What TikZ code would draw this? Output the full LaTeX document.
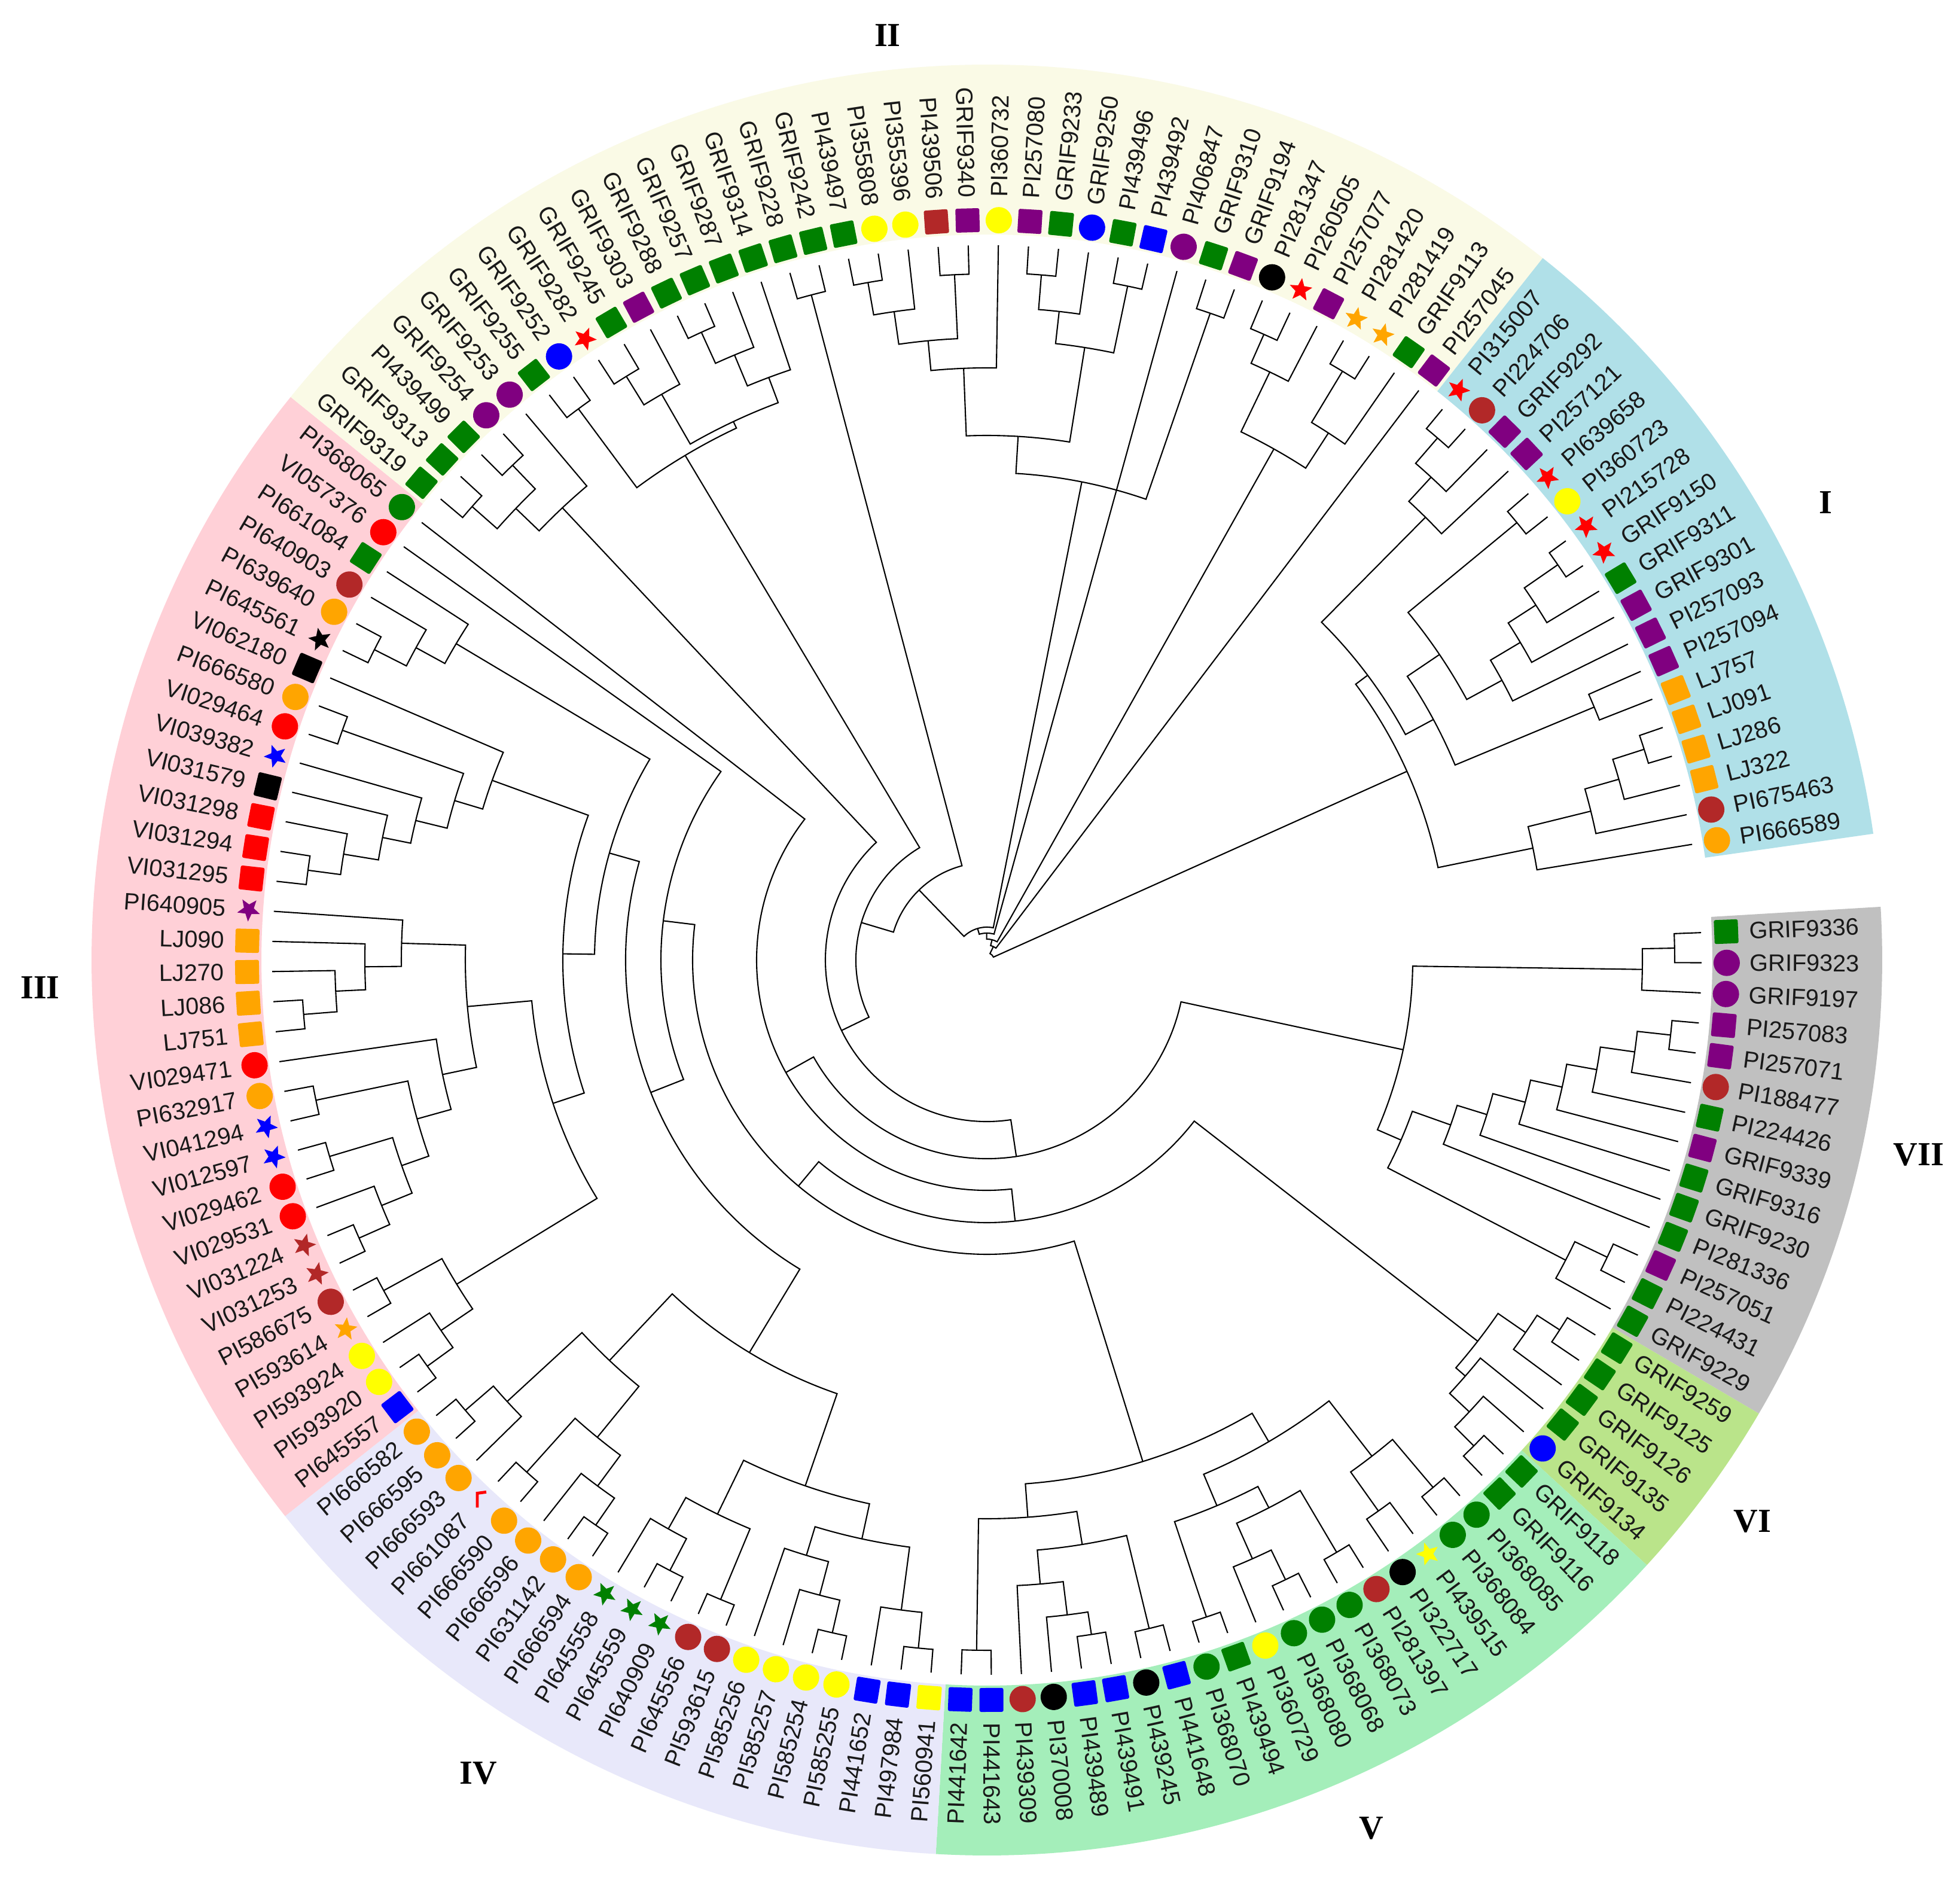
\documentclass[tikz,border=0pt]{standalone}
\usepackage{fontspec}
\setmainfont{Liberation Serif}
\setsansfont{Liberation Sans}
\usetikzlibrary{shapes.geometric}

\definecolor{gn}{RGB}{0,128,0}
\definecolor{pu}{RGB}{128,0,128}
\definecolor{br}{RGB}{178,40,40}
\definecolor{rd}{RGB}{255,0,0}
\definecolor{or}{RGB}{255,165,0}
\definecolor{ye}{RGB}{255,255,0}
\definecolor{bl}{RGB}{0,0,255}
\definecolor{bk}{RGB}{0,0,0}
\definecolor{bandI}{RGB}{176,224,232}
\definecolor{bandII}{RGB}{250,250,230}
\definecolor{bandIII}{RGB}{255,208,215}
\definecolor{bandIV}{RGB}{232,232,250}
\definecolor{bandV}{RGB}{164,238,186}
\definecolor{bandVI}{RGB}{186,228,138}
\definecolor{bandVII}{RGB}{192,192,192}

\tikzset{
  branch/.style={black, line width=0.6pt},
  mk/.style={draw=none, inner sep=0pt, outer sep=0pt},
  sq/.style={mk, rectangle, rounded corners=0.8pt, minimum size=0.40cm},
  ci/.style={mk, circle, minimum size=0.44cm},
  st/.style={mk, star, star points=5, star point ratio=2.3, minimum size=0.40cm},
  hk/.style={mk, minimum size=0.30cm},
  lab/.style={font=\sffamily\fontsize{11.3}{13}\selectfont, inner sep=0pt, text=black!90},
  clu/.style={font=\bfseries\fontsize{16}{18}\selectfont}
}

% leaf angle = 2.2 - 2.417*index, leaf tips at r = 11.95
\newcommand\clade[4]{%
  \edef\aA{\csname ang@#3\endcsname}%
  \edef\aB{\csname ang@#4\endcsname}%
  \pgfmathsetmacro\aM{(\aA+\aB)/2}%
  \expandafter\xdef\csname ang@#1\endcsname{\aM}%
  \coordinate (#1) at (\aM:#2);
  \draw[branch] (#3) -- (\aA:#2) arc[start angle=\aA, end angle=\aB, radius=#2] -- (#4);
}
\newcommand\acc[4]{%
  \pgfmathsetmacro\aL{2.2-2.417*#1}%
  \pgfmathtruncatemacro\sd{cos(\aL)>=0 ? 1 : 0}%
  \node[#2, fill=#3, rotate=\aL] (m#1) at (\aL:12.37) {};
  \ifnum\sd=1
    \node[lab, anchor=west, rotate=\aL] (t#1) at (\aL:12.75) {#4};
  \else
    \pgfmathsetmacro\aF{\aL+180}%
    \node[lab, anchor=east, rotate=\aF] (t#1) at (\aL:12.75) {#4};
  \fi}
\newcommand\band[3]{%
  \fill[#3] (#1:12.13) arc[start angle=#1, end angle=#2, radius=12.13]
    -- (#2:14.97) arc[start angle=#2, end angle=#1, radius=14.97] -- cycle;}

\begin{document}
\begin{tikzpicture}
\useasboundingbox (-16.50,-15.42) rectangle (16.27,16.05);
\fill[white] (-16.50,-15.42) rectangle (16.27,16.05);

\band{3.41}{-30.43}{bandVII}
\band{-30.43}{-42.51}{bandVI}
\band{-42.51}{-93.27}{bandV}
\band{-93.27}{-141.61}{bandIV}
\band{-141.61}{-218.96}{bandIII}
\band{-218.96}{-308.38}{bandII}
\band{-308.38}{-351.89}{bandI}

\foreach \ix in {0,...,146}{
  \pgfmathsetmacro\aL{2.2-2.417*\ix}
  \expandafter\xdef\csname ang@l\ix\endcsname{\aL}
  \coordinate (l\ix) at (\aL:11.95);
}

\clade{c1}{11.50}{l0}{l1}
\clade{c2}{10.96}{c1}{l2}
\clade{c3}{11.50}{l3}{l4}
\clade{c4}{10.94}{c3}{l5}
\clade{c5}{10.36}{c4}{l6}
\clade{c6}{9.85}{c5}{l7}
\clade{c7}{9.31}{c6}{l8}
\clade{c8}{8.75}{c7}{l9}
\clade{c9}{8.23}{c8}{l10}
\clade{c10}{11.50}{l11}{l12}
\clade{c11}{10.90}{c10}{l13}
\clade{c12}{7.55}{c9}{c11}
\clade{sevn}{7.12}{c2}{c12}

\clade{x1}{11.40}{l14}{l15}
\clade{x2}{10.95}{x1}{l16}
\clade{x3}{11.50}{l19}{l20}
\clade{x4}{11.05}{l18}{x3}
\clade{x5}{10.60}{l17}{x4}
\clade{sixg}{10.39}{x2}{x5}

\clade{v1}{11.55}{l21}{l22}
\clade{v2}{11.30}{l23}{l24}
\clade{v3}{10.50}{v1}{v2}
\clade{v4}{11.50}{l25}{l26}
\clade{v5}{11.50}{l27}{l28}
\clade{v6}{10.95}{v5}{l29}
\clade{v7}{10.30}{v4}{v6}
\clade{v8}{11.58}{l30}{l31}
\clade{v9}{9.90}{v7}{v8}
\clade{v10}{9.33}{v3}{v9}
\clade{v11}{11.41}{l34}{l35}
\clade{v12}{11.03}{v11}{l36}
\clade{v13}{10.47}{v12}{l37}
\clade{v14}{11.50}{l32}{l33}
\clade{v15}{9.90}{v14}{v13}
\clade{v16}{11.54}{l38}{l39}
\clade{v17}{9.34}{v15}{v16}
\clade{five}{8.78}{v10}{v17}

\clade{w1}{11.56}{l40}{l41}
\clade{w2}{10.96}{w1}{l42}
\clade{w3}{11.54}{l43}{l44}
\clade{w4}{10.98}{w3}{l45}
\clade{w5}{10.40}{w4}{l46}
\clade{w6}{9.90}{w2}{w5}
\clade{w7}{11.58}{l47}{l48}
\clade{w8}{11.50}{l49}{l50}
\clade{w9}{10.90}{w8}{l51}
\clade{w10}{10.30}{w7}{w9}
\clade{w11}{9.30}{w6}{w10}
\clade{w12}{11.49}{l52}{l53}
\clade{w13}{10.94}{w12}{l54}
\clade{w14}{11.51}{l55}{l56}
\clade{w15}{10.30}{w13}{w14}
\clade{w16}{11.52}{l58}{l59}
\clade{w17}{10.90}{l57}{w16}
\clade{w18}{9.20}{w15}{w17}
\clade{four}{7.67}{w11}{w18}

\clade{f1}{11.50}{l63}{l64}
\clade{f2}{11.56}{l60}{l61}
\clade{f3}{11.03}{f2}{l62}
\clade{f4}{10.39}{f3}{f1}
\clade{e1}{11.48}{l65}{l66}
\clade{e2}{10.92}{e1}{l67}
\clade{e3}{11.47}{l68}{l69}
\clade{e4}{10.37}{e2}{e3}
\clade{e5}{11.46}{l70}{l71}
\clade{e6}{9.89}{e4}{e5}
\clade{e7}{9.30}{e6}{l72}
\clade{j1}{11.46}{l73}{l74}
\clade{j2}{10.90}{j1}{l75}
\clade{j3}{10.40}{j2}{l76}
\clade{j4}{9.79}{j3}{l77}
\clade{j5}{8.72}{e7}{j4}
\clade{p1}{7.64}{f4}{j5}
\clade{k1}{11.45}{l78}{l79}
\clade{k2}{10.90}{k1}{l80}
\clade{k3}{10.31}{k2}{l81}
\clade{k4}{9.83}{k3}{l82}
\clade{k5}{11.44}{l83}{l84}
\clade{k6}{9.29}{k4}{k5}
\clade{k7}{8.80}{k6}{l85}
\clade{h1}{11.48}{l86}{l87}
\clade{h2}{10.88}{h1}{l88}
\clade{h3}{10.33}{h2}{l89}

\clade{s1}{7.09}{p1}{k7}
\clade{s2}{6.56}{s1}{h3}
\clade{s3}{6.04}{four}{s2}
\clade{s4}{5.45}{s3}{l90}
\clade{s5}{4.92}{five}{s4}
\clade{s6}{4.39}{sixg}{s5}
\clade{s7}{3.85}{s6}{l91}
\clade{s8}{3.32}{sevn}{s7}

\clade{t1}{11.47}{l92}{l93}
\clade{t2}{11.46}{l94}{l95}
\clade{t3}{10.91}{t1}{t2}
\clade{t4}{10.37}{t3}{l96}
\clade{s9}{2.70}{s8}{t4}
\clade{g1}{11.47}{l97}{l98}
\clade{g2}{11.47}{l99}{l100}
\clade{g3}{10.91}{g2}{l101}
\clade{g4}{11.53}{l102}{l103}
\clade{g5}{10.96}{g4}{l104}
\clade{g6}{10.40}{g5}{l105}
\clade{g7}{9.95}{g3}{g6}
\clade{g8}{9.83}{g1}{g7}
\clade{s10}{2.19}{s9}{g8}
\clade{g9}{11.50}{l106}{l107}
\clade{s11}{1.63}{s10}{g9}

\clade{m1}{11.50}{l108}{l109}
\clade{m2}{10.95}{m1}{l110}
\clade{m3}{11.47}{l111}{l112}
\clade{m4}{10.40}{m2}{m3}
\clade{m5}{9.90}{m4}{l113}
\clade{m6}{11.49}{l114}{l115}
\clade{m7}{10.91}{m6}{l116}
\clade{m8}{11.51}{l117}{l118}
\clade{m9}{10.37}{m7}{m8}
\clade{m10}{8.77}{m5}{m9}
\clade{m11}{11.44}{l120}{l121}
\clade{m12}{8.15}{m10}{m11}
\clade{r1}{11.44}{l122}{l123}
\clade{r2}{10.91}{r1}{l124}
\clade{r3}{11.50}{l125}{l126}
\clade{r4}{10.50}{r3}{l127}
\clade{r5}{9.80}{r2}{r4}

\clade{u1}{11.53}{l129}{l130}
\clade{u2}{10.97}{u1}{l131}
\clade{u3}{10.42}{u2}{l132}
\clade{u4}{11.49}{l133}{l134}
\clade{u5}{11.61}{l135}{l136}
\clade{u6}{10.93}{u5}{l137}
\clade{u7}{10.38}{u6}{l138}
\clade{u8}{9.80}{u7}{l139}
\clade{u9}{9.13}{u4}{u8}
\clade{u10}{11.00}{l140}{l141}
\clade{u11}{8.48}{u9}{u10}
\clade{u12}{7.95}{u3}{u11}
\clade{i1}{11.54}{l142}{l143}
\clade{i2}{10.99}{i1}{l144}
\clade{i3}{10.40}{i2}{l145}
\clade{i4}{9.32}{i3}{l146}
\clade{one}{7.70}{u12}{i4}

\clade{z1}{0.55}{s11}{m12}
\clade{z2}{0.45}{z1}{l119}
\clade{z3}{0.35}{z2}{r5}
\clade{z4}{0.25}{z3}{l128}
\clade{z5}{0.12}{z4}{one}

\foreach \ix/\sh/\cl/\lb in {
  0/sq/gn/GRIF9336, 1/ci/pu/GRIF9323, 2/ci/pu/GRIF9197, 3/sq/pu/PI257083,
  4/sq/pu/PI257071, 5/ci/br/PI188477, 6/sq/gn/PI224426, 7/sq/pu/GRIF9339,
  8/sq/gn/GRIF9316, 9/sq/gn/GRIF9230, 10/sq/gn/PI281336, 11/sq/pu/PI257051,
  12/sq/gn/PI224431, 13/sq/gn/GRIF9229, 14/sq/gn/GRIF9259, 15/sq/gn/GRIF9125,
  16/sq/gn/GRIF9126, 17/sq/gn/GRIF9135, 18/ci/bl/GRIF9134, 19/sq/gn/GRIF9118,
  20/sq/gn/GRIF9116, 21/ci/gn/PI368085, 22/ci/gn/PI368084, 23/st/ye/PI439515,
  24/ci/bk/PI322717, 25/ci/br/PI281397, 26/ci/gn/PI368073, 27/ci/gn/PI368068,
  28/ci/gn/PI368080, 29/ci/ye/PI360729, 30/sq/gn/PI439494, 31/ci/gn/PI368070,
  32/sq/bl/PI441648, 33/ci/bk/PI439245, 34/sq/bl/PI439491, 35/sq/bl/PI439489,
  36/ci/bk/PI370008, 37/ci/br/PI439309, 38/sq/bl/PI441643, 39/sq/bl/PI441642,
  40/sq/ye/PI560941, 41/sq/bl/PI497984, 42/sq/bl/PI441652, 43/ci/ye/PI585255,
  44/ci/ye/PI585254, 45/ci/ye/PI585257, 46/ci/ye/PI585256, 47/ci/br/PI593615,
  48/ci/br/PI645556, 49/st/gn/PI640909, 50/st/gn/PI645559, 51/st/gn/PI645558,
  52/ci/or/PI666594, 53/ci/or/PI631142, 54/ci/or/PI666596, 55/ci/or/PI666590,
  56/hk/none/PI661087, 57/ci/or/PI666593, 58/ci/or/PI666595, 59/ci/or/PI666582,
  60/sq/bl/PI645557, 61/ci/ye/PI593920, 62/ci/ye/PI593924, 63/st/or/PI593614,
  64/ci/br/PI586675, 65/st/br/VI031253, 66/st/br/VI031224, 67/ci/rd/VI029531,
  68/ci/rd/VI029462, 69/st/bl/VI012597, 70/st/bl/VI041294, 71/ci/or/PI632917,
  72/ci/rd/VI029471, 73/sq/or/LJ751, 74/sq/or/LJ086, 75/sq/or/LJ270,
  76/sq/or/LJ090, 77/st/pu/PI640905, 78/sq/rd/VI031295, 79/sq/rd/VI031294,
  80/sq/rd/VI031298, 81/sq/bk/VI031579, 82/st/bl/VI039382, 83/ci/rd/VI029464,
  84/ci/or/PI666580, 85/sq/bk/VI062180, 86/st/bk/PI645561, 87/ci/or/PI639640,
  88/ci/br/PI640903, 89/sq/gn/PI661084, 90/ci/rd/VI057376, 91/ci/gn/PI368065,
  92/sq/gn/GRIF9319, 93/sq/gn/GRIF9313, 94/sq/gn/PI439499, 95/ci/pu/GRIF9254,
  96/ci/pu/GRIF9253, 97/sq/gn/GRIF9255, 98/ci/bl/GRIF9252, 99/st/rd/GRIF9282,
  100/sq/gn/GRIF9245, 101/sq/pu/GRIF9303, 102/sq/gn/GRIF9288, 103/sq/gn/GRIF9257,
  104/sq/gn/GRIF9287, 105/sq/gn/GRIF9314, 106/sq/gn/GRIF9228, 107/sq/gn/GRIF9242,
  108/sq/gn/PI439497, 109/ci/ye/PI355808, 110/ci/ye/PI355396, 111/sq/br/PI439506,
  112/sq/pu/GRIF9340, 113/ci/ye/PI360732, 114/sq/pu/PI257080, 115/sq/gn/GRIF9233,
  116/ci/bl/GRIF9250, 117/sq/gn/PI439496, 118/sq/bl/PI439492, 119/ci/pu/PI406847,
  120/sq/gn/GRIF9310, 121/sq/pu/GRIF9194, 122/ci/bk/PI281347, 123/st/rd/PI260505,
  124/sq/pu/PI257077, 125/st/or/PI281420, 126/st/or/PI281419, 127/sq/gn/GRIF9113,
  128/sq/pu/PI257045, 129/st/rd/PI315007, 130/ci/br/PI224706, 131/sq/pu/GRIF9292,
  132/sq/pu/PI257121, 133/st/rd/PI639658, 134/ci/ye/PI360723, 135/st/rd/PI215728,
  136/st/rd/GRIF9150, 137/sq/gn/GRIF9311, 138/sq/pu/GRIF9301, 139/sq/pu/PI257093,
  140/sq/pu/PI257094, 141/sq/or/LJ757, 142/sq/or/LJ091, 143/sq/or/LJ286,
  144/sq/or/LJ322, 145/ci/br/PI675463, 146/ci/or/PI666589}{
  \edef\doacc{\noexpand\acc{\ix}{\sh}{\cl}{\lb}}\doacc
}
\draw[rd, line width=1.4pt] ([shift={(-0.06,-0.13)}]m56.center) -- ++(0,0.24) -- ++(0.15,0.02);

\node[clu] (cI) at (14.02,7.65) {I};
\node[clu] (cII) at (-1.66,15.46) {II};
\node[clu] (cIII) at (-15.83,-0.46) {III};
\node[clu] (cIV) at (-8.50,-13.59) {IV};
\node[clu] (cV) at (6.43,-14.51) {V};
\node[clu] (cVI) at (12.80,-9.39) {VI};
\node[clu] (cVII) at (15.58,-3.26) {VII};
\end{tikzpicture}
\end{document}
